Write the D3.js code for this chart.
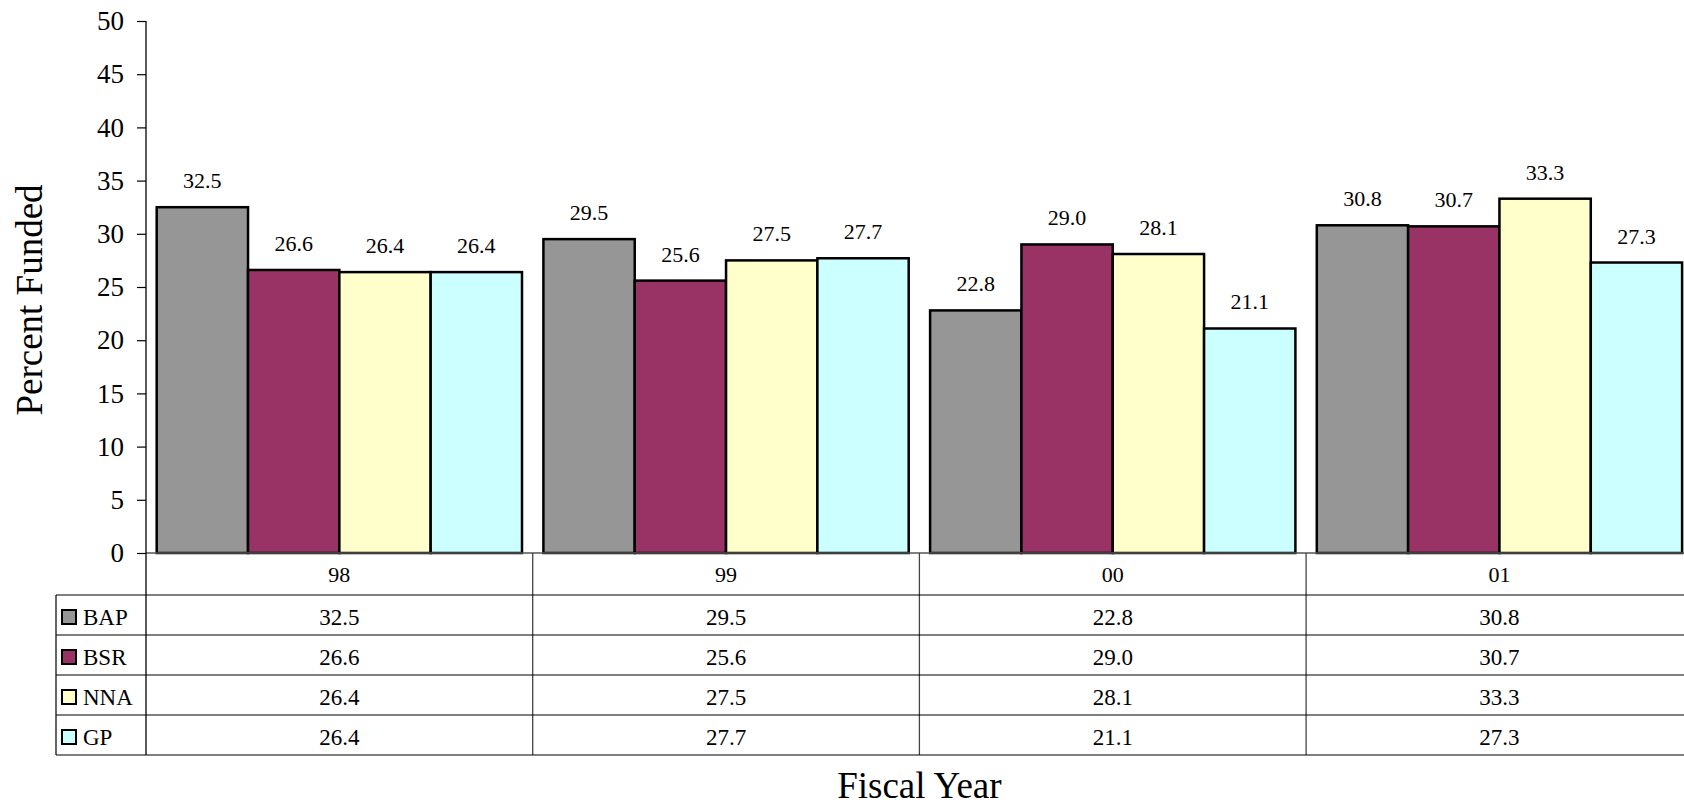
<!DOCTYPE html>
<html>
<head>
<meta charset="utf-8">
<script src="https://cdn.jsdelivr.net/npm/d3@7"></script>
<style>
  body { margin: 0; background: #fff; }
  text { font-family: "Liberation Serif", "Times New Roman", serif; fill: #000; }
</style>
</head>
<body>
<svg id="chart" width="1684" height="805"></svg>
<script>
// data
var years = ["98", "99", "00", "01"]
var series = ["BAP", "BSR", "NNA", "GP"]
var colors = ["#969696", "#993366", "#FFFFCC", "#CCFFFF"]
var BAP = [32.5, 29.5, 22.8, 30.8]
var BSR = [26.6, 25.6, 29.0, 30.7]
var NNA = [26.4, 27.5, 28.1, 33.3]
var GP = [26.4, 27.7, 21.1, 27.3]
var yTicks = [0, 5, 10, 15, 20, 25, 30, 35, 40, 45, 50]

var values = [BAP, BSR, NNA, GP]

var svg = d3.select("#chart")
// note: "top" is taken by window.top, so prefix these
var plotLeft = 146, plotTop = 21, plotBottom = 553
var bandW = 386.7
var plotRight = plotLeft + bandW * years.length

var y = d3.scaleLinear().domain([0, 50]).range([plotBottom, plotTop])
var x0 = d3.scaleBand().domain(years).range([plotLeft, plotRight])
var x1 = d3.scaleBand().domain(series).range([10.7, bandW - 10.7])

// y axis
var yAxis = svg.append("g")
    .attr("transform", "translate(" + plotLeft + ",0)")
    .call(d3.axisLeft(y).tickValues(yTicks).tickSize(9).tickPadding(13))
yAxis.select(".domain").remove()
yAxis.selectAll("line").attr("stroke", "#000").attr("stroke-width", 1.2)
yAxis.selectAll("text").style("font-size", "27px")
    .style("font-family", "Liberation Serif, serif")

// bars
var groups = svg.selectAll("g.year")
    .data(years)
    .enter().append("g")
    .attr("class", "year")
    .attr("transform", function(d) { return "translate(" + x0(d) + ",0)" })

groups.each(function(yr, i) {
    var g = d3.select(this)
    series.forEach(function(s, j) {
        var v = values[j][i]
        g.append("rect")
            .attr("x", x1(s))
            .attr("y", y(v))
            .attr("width", x1.bandwidth())
            .attr("height", y(0) - y(v))
            .attr("fill", colors[j])
            .attr("stroke", "#000")
            .attr("stroke-width", 2.5)
        g.append("text")
            .attr("x", x1(s) + x1.bandwidth() / 2)
            .attr("y", y(v) - 19)
            .attr("text-anchor", "middle")
            .style("font-size", "22px")
            .text(v.toFixed(1))
    })
})

// axis lines
svg.append("line")
    .attr("x1", plotLeft).attr("x2", plotRight)
    .attr("y1", plotBottom).attr("y2", plotBottom)
    .attr("stroke", "#555").attr("stroke-width", 1.5)

// data table
var tableLeft = 56
var headerBottom = 595
var rowH = 40
var tableBottom = headerBottom + rowH * series.length

svg.append("line")
    .attr("x1", plotLeft).attr("x2", plotLeft)
    .attr("y1", plotTop).attr("y2", tableBottom)
    .attr("stroke", "#000").attr("stroke-width", 1.3)

years.forEach(function(yr, i) {
    if (i > 0) {
        svg.append("line")
            .attr("x1", x0(yr)).attr("x2", x0(yr))
            .attr("y1", plotBottom).attr("y2", tableBottom)
            .attr("stroke", "#444").attr("stroke-width", 1.3)
    }
    svg.append("text")
        .attr("x", x0(yr) + bandW / 2)
        .attr("y", plotBottom + 29)
        .attr("text-anchor", "middle")
        .style("font-size", "22px")
        .text(yr)
})

for (var r = 0; r <= series.length; r++) {
    svg.append("line")
        .attr("x1", tableLeft).attr("x2", plotRight)
        .attr("y1", headerBottom + r * rowH).attr("y2", headerBottom + r * rowH)
        .attr("stroke", "#000").attr("stroke-width", 1.2)
}
svg.append("line")
    .attr("x1", tableLeft).attr("x2", tableLeft)
    .attr("y1", headerBottom).attr("y2", tableBottom)
    .attr("stroke", "#000").attr("stroke-width", 1.2)

series.forEach(function(s, j) {
    var rowTop = headerBottom + j * rowH
    svg.append("rect")
        .attr("x", 62).attr("y", rowTop + 15)
        .attr("width", 14).attr("height", 14)
        .attr("fill", colors[j])
        .attr("stroke", "#000").attr("stroke-width", 2)
    svg.append("text")
        .attr("x", 83).attr("y", rowTop + 30)
        .style("font-size", "23px")
        .text(s)
    years.forEach(function(yr, i) {
        svg.append("text")
            .attr("x", x0(yr) + bandW / 2)
            .attr("y", rowTop + 30)
            .attr("text-anchor", "middle")
            .style("font-size", "23px")
            .text(values[j][i].toFixed(1))
    })
})

// axis titles
svg.append("text")
    .attr("transform", "translate(42," + ((plotTop + plotBottom) / 2 + 13) + ") rotate(-90)")
    .attr("text-anchor", "middle")
    .style("font-size", "37px")
    .text("Percent Funded")

svg.append("text")
    .attr("x", (plotLeft + plotRight) / 2)
    .attr("y", 798)
    .attr("text-anchor", "middle")
    .style("font-size", "37px")
    .text("Fiscal Year")
</script>
</body>
</html>
